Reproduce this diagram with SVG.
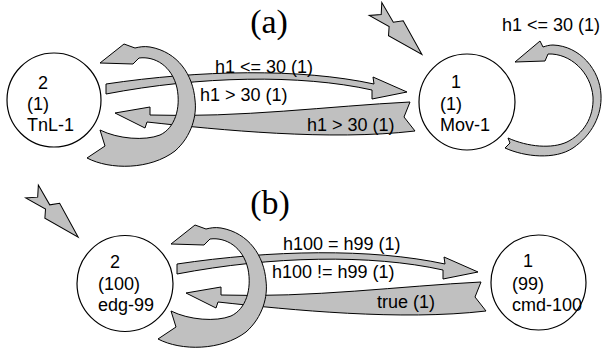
<svg xmlns="http://www.w3.org/2000/svg" width="605" height="352" viewBox="0 0 605 352">
<style>
.n{fill:#fff;stroke:#000;stroke-width:1.2}
.e{fill:#c0c0c0;stroke:#000;stroke-width:1;stroke-linejoin:miter}
text{font-family:"Liberation Sans",Arial,sans-serif;font-size:18px;fill:#000}
.t{font-family:"Liberation Serif","Times New Roman",serif;font-size:34px;text-anchor:middle}
</style>
<defs>
<polygon id="init" class="e" points="0,-9 22,-3 28,-11 65,0 28,10 22,3 0,9 8,0"/>
<path id="bandTop" class="e" d="M106,84 C200,70 300,68 374,84 L373,77 L407,92 L372,99 L372,90 C300,74 200,76 106,94 Z"/>
<path id="bandBot" class="e" d="M410,102 C330,106 240,118 150,115 L150,107 L115,113 L145,128 L147,122 C220,130 330,141 415,131 L404,117 Z"/>
<path id="loopL" class="e" d="M87,158 C110,170 150,170 175,151 C192,136 197,115 195,100 C193,75 178,52 150,47 C144,46 139,47 135,48 L124,44 L100,63 L133,64 L139,58 C155,56 172,66 177,88 C181,108 175,128 160,135 C145,141 118,139 100,130 L105,146 Z"/>
</defs>
<text class="t" x="269" y="33">(a)</text>
<text class="t" x="270" y="214">(b)</text>
<g id="connectors">
  <use href="#init" transform="translate(375.5,9) rotate(44.4)"/>
  <use href="#bandTop"/>
  <use href="#bandBot"/>
  <use href="#loopL"/>
  <path class="e" d="M505,148 C525,157 555,160 573,148 C592,135 602,115 601,95 C600,70 580,46 553,45 C549,45 546,46 543,47 L540,41 L515,62 L545,61 L548,54 C570,53 591,72 593,97 C594,118 583,134 567,142 C552,149 528,147 508,138 L510,143 Z"/>
  <text x="215" y="73">h1 &lt;= 30 (1)</text>
  <text x="200" y="101">h1 &gt; 30 (1)</text>
  <text x="307" y="131">h1 &gt; 30 (1)</text>
  <text x="502" y="31">h1 &lt;= 30 (1)</text>
  <use href="#init" transform="translate(32,191.5) rotate(44.7)"/>
  <use href="#bandTop" transform="translate(71,180)"/>
  <use href="#bandBot" transform="translate(71,180)"/>
  <use href="#loopL" transform="translate(71,181)"/>
  <text x="283" y="250">h100 = h99 (1)</text>
  <text x="272" y="278">h100 != h99 (1)</text>
  <text x="377" y="308">true (1)</text>
</g>
<g id="TnL-1">
  <circle class="n" cx="54" cy="100" r="47"/>
  <text x="38" y="89">2</text>
  <text x="27" y="110">(1)</text>
  <text x="27" y="131">TnL-1</text>
</g>
<g id="Mov-1">
  <circle class="n" cx="467" cy="102" r="48"/>
  <text x="451" y="88">1</text>
  <text x="440" y="110">(1)</text>
  <text x="440" y="131">Mov-1</text>
</g>
<g id="edg-99">
  <circle class="n" cx="125" cy="283.5" r="48"/>
  <text x="110" y="268">2</text>
  <text x="98" y="290">(100)</text>
  <text x="98" y="311">edg-99</text>
</g>
<g id="cmd-100">
  <circle class="n" cx="538.5" cy="282.5" r="47.5"/>
  <text x="523" y="267">1</text>
  <text x="512" y="290">(99)</text>
  <text x="512" y="311">cmd-100</text>
</g>
</svg>
